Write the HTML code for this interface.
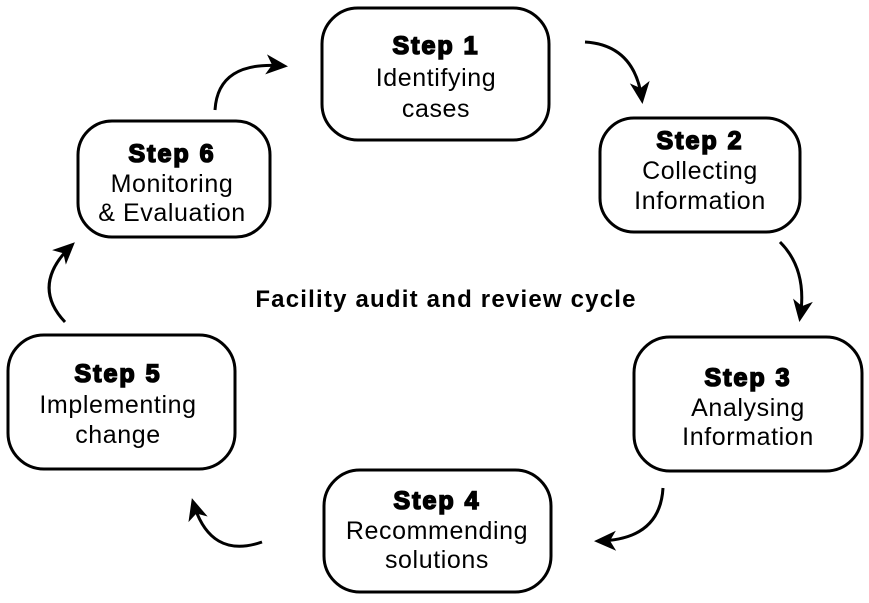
<!DOCTYPE html>
<html><head><meta charset="utf-8"><style>
body{margin:0;background:#fff;width:869px;height:598px;overflow:hidden}
svg text{font-family:"Liberation Sans",Arial,sans-serif;fill:#000;text-anchor:middle}
.h{font-weight:bold;font-size:25px;stroke:#000;stroke-width:1.6px;letter-spacing:2px}
.b{font-size:25px;letter-spacing:0.6px}
.t{font-weight:bold;font-size:24px;letter-spacing:1.2px}
</style></head><body>
<svg width="869" height="598" viewBox="0 0 869 598" xmlns="http://www.w3.org/2000/svg">
<defs><marker id="a" viewBox="-20 -15 30 30" refX="0" refY="0" markerWidth="30" markerHeight="30" markerUnits="userSpaceOnUse" orient="auto"><path d="M-18,-10 L4,0 L-18,10 L-12,0 Z" fill="#000"/></marker></defs>
<g fill="#fff" stroke="#000" stroke-width="3">
<rect x="322" y="8" width="227" height="132" rx="36"/>
<rect x="600" y="118" width="200" height="114" rx="34"/>
<rect x="634" y="337" width="228" height="134" rx="36"/>
<rect x="324" y="470" width="227" height="122" rx="36"/>
<rect x="8" y="335" width="227" height="134" rx="36"/>
<rect x="78" y="121" width="192" height="116" rx="34"/>
</g>
<g fill="none" stroke="#000" stroke-width="3" marker-end="url(#a)">
<path d="M585,42 Q635,45 642,100"/>
<path d="M780,242 Q808,270 800,318"/>
<path d="M663,488 Q660,540 598,541"/>
<path d="M262,542 Q210,560 193,502"/>
<path d="M65,322 Q30,285 72,245"/>
<path d="M215,110 Q218,60 284,66"/>
</g>
<text class="h" x="436" y="54">Step 1</text>
<text class="b" x="436" y="86">Identifying</text>
<text class="b" x="436" y="117">cases</text>
<text class="h" x="700" y="149">Step 2</text>
<text class="b" x="700" y="179">Collecting</text>
<text class="b" x="700" y="209">Information</text>
<text class="h" x="748" y="386">Step 3</text>
<text class="b" x="748" y="416">Analysing</text>
<text class="b" x="748" y="445">Information</text>
<text class="h" x="437" y="509">Step 4</text>
<text class="b" x="437" y="539">Recommending</text>
<text class="b" x="437" y="568">solutions</text>
<text class="h" x="118" y="382">Step 5</text>
<text class="b" x="118" y="413">Implementing</text>
<text class="b" x="118" y="443">change</text>
<text class="h" x="172" y="162">Step 6</text>
<text class="b" x="172" y="192">Monitoring</text>
<text class="b" x="172" y="221">&amp; Evaluation</text>
<text class="t" x="446" y="307">Facility audit and review cycle</text>
</svg>
</body></html>
